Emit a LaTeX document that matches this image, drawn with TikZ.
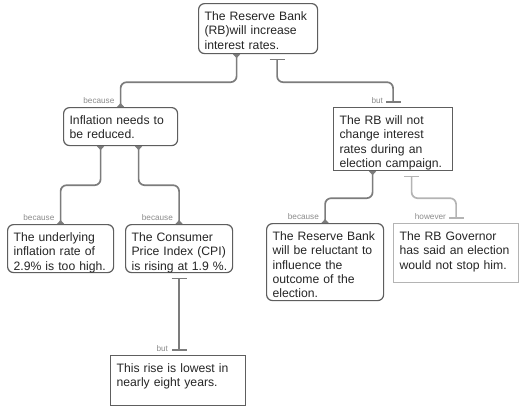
\documentclass[tikz,border=0pt]{standalone}
\usepackage{fontspec}
\setmainfont{Liberation Sans}
\usetikzlibrary{arrows.meta}
\definecolor{boxgray}{HTML}{5E5E5E}
\definecolor{linkgray}{HTML}{7C7C7C}
\definecolor{palegray}{HTML}{B4B4B4}
\definecolor{lblgray}{HTML}{8C8C8C}

\begin{document}
\begin{tikzpicture}[x=1pt,y=-1pt,
		box/.style={draw=boxgray, line width=1.2pt, anchor=north west, align=left,
			inner xsep=6pt, inner ysep=5pt, text height=12pt, text=black!85,
			font=\fontsize{12.2}{14.3}\selectfont},
		reason/.style={box, rounded corners=6pt},
		objection/.style={box},
		link/.style={draw=linkgray, line width=1.7pt, rounded corners=6pt},
		because/.style={link, {Triangle[reversed,width=7pt,length=4pt]}-{Triangle[reversed,width=7pt,length=4pt]}},
		but/.style={link, {Bar[width=15pt]}-{Bar[width=15pt]}, shorten <=4.5pt, shorten >=4.5pt},
		lbl/.style={font=\fontsize{8.2}{9}\selectfont, text=lblgray, inner sep=0pt, anchor=base east}]
	\useasboundingbox[fill=white] (0,0) rectangle (529,410);
	\node[reason, text width=107pt, text depth=28pt] (top) at (198,3) {The Reserve Bank\\(RB)will increase\\interest rates.};
	\node[reason, text width=102pt, text depth=16pt] (infl) at (63,107) {Inflation needs to\\be reduced.};
	\node[reason, text width=94pt, text depth=26pt] (under) at (7,224) {The underlying\\inflation rate of\\2.9\% is too high.};
	\node[reason, text width=95pt, text depth=26pt] (cpi) at (125,224) {The Consumer\\Price Index (CPI)\\\mbox{is rising at 1.9 \%.}};
	\node[objection, text width=123pt, text depth=28pt] (rise) at (110,355) {This rise is lowest in\\nearly eight years.};
	\node[objection, text width=107pt, text depth=41pt] (rbnot) at (333,107) {The RB will not\\change interest\\rates during an\\election campaign.};
	\node[reason, text width=105pt, text depth=55pt] (resbank) at (266,223) {The Reserve Bank\\will be reluctant to\\influence the\\outcome of the\\election.};
	\node[objection, draw=palegray, text width=113pt, text depth=37pt] (gov) at (393,223) {The RB Governor\\has said an election\\would not stop him.};

	\draw[because] ([xshift=-21.5pt]top.south) -- ++(0,28) -| (infl.north);
	\draw[but] ([xshift=19pt]top.south) -- ++(0,28) -| (rbnot.north);
	\draw[because] ([xshift=-20pt]infl.south) -- ++(0,39) -| (under.north);
	\draw[because] ([xshift=18pt]infl.south) -- ++(0,39) -| (cpi.north);
	\draw[but] (cpi.south) -- (cpi.south |- rise.north);
	\draw[because] ([xshift=-20.5pt]rbnot.south) -- ++(0,27) -| (resbank.north);
	\draw[but, draw=palegray] ([xshift=18.5pt]rbnot.south) -- ++(0,27) -| (gov.north);

	\node[lbl] (l1) at ([xshift=-6pt,yshift=4pt]infl.north) {because};
	\node[lbl] (l2) at ([xshift=-10pt,yshift=4pt]rbnot.north) {but};
	\node[lbl] (l3) at ([xshift=-6pt,yshift=4pt]under.north) {because};
	\node[lbl] (l4) at ([xshift=-6pt,yshift=4pt]cpi.north) {because};
	\node[lbl] (l5) at ([xshift=-10pt,yshift=4pt]rise.north) {but};
	\node[lbl] (l6) at ([xshift=-6pt,yshift=4pt]resbank.north) {because};
	\node[lbl] (l7) at ([xshift=-10pt,yshift=4pt]gov.north) {however};
\end{tikzpicture}
\end{document}
